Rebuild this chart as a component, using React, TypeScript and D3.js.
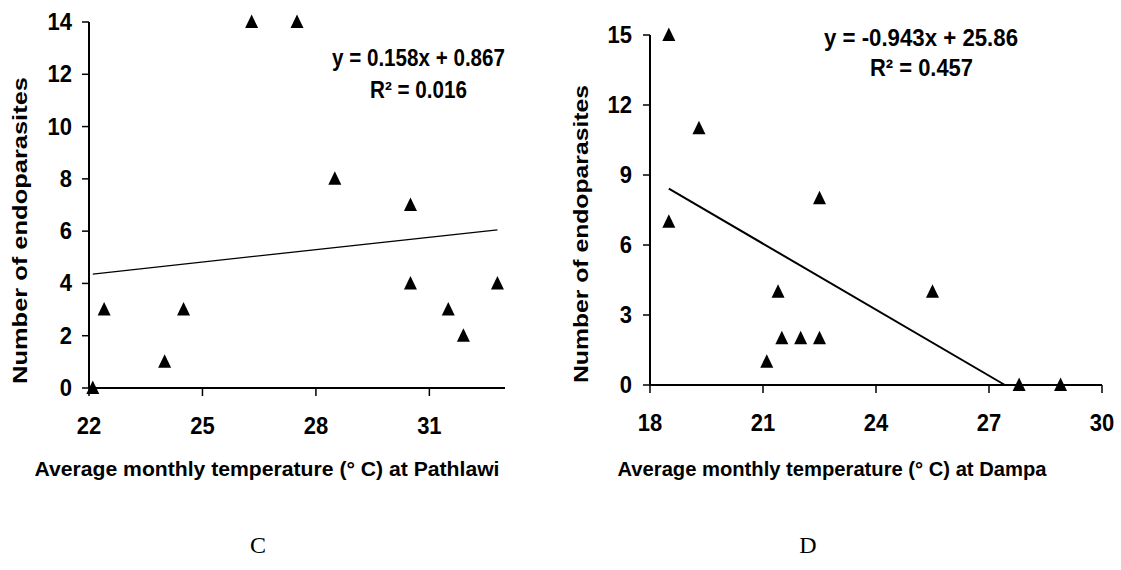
import React from "react";
import * as d3 from "d3";

// Panel C – Pathlawi
const tempPathlawi = [22.1, 22.4, 24.0, 24.5, 26.3, 27.5, 28.5, 30.5, 30.5, 31.5, 31.9, 32.8];
const parasitesPathlawi = [0, 3, 1, 3, 14, 14, 8, 7, 4, 3, 2, 4];
const xTicksC = [22, 25, 28, 31];
const yTicksC = [0, 2, 4, 6, 8, 10, 12, 14];
const fitC = { slope: 0.158, intercept: 0.867 };
const eqC = ["y = 0.158x + 0.867", "R² = 0.016"];

// Panel D – Dampa
const tempDampa = [18.5, 18.5, 19.3, 21.1, 21.4, 21.5, 22.0, 22.5, 22.5, 25.5, 27.8, 28.9];
const parasitesDampa = [15, 7, 11, 1, 4, 2, 2, 2, 8, 4, 0, 0];
const xTicksD = [18, 21, 24, 27, 30];
const yTicksD = [0, 3, 6, 9, 12, 15];
const fitD = { slope: -0.943, intercept: 25.86 };
const eqD = ["y = -0.943x + 25.86", "R² = 0.457"];

const SANS = "'Liberation Sans', Arial, sans-serif";

type PanelProps = {
  xs: number[];
  ys: number[];
  xDomain: [number, number];
  yDomain: [number, number];
  xRange: [number, number];
  yRange: [number, number];
  xTicks: number[];
  yTicks: number[];
  fit: { slope: number; intercept: number };
  fitWidth: number;
  eq: string[];
  eq1: { cx: number; y: number; len: number; fs: number };
  eq2: { cx: number; y: number; len: number; fs: number };
  yTitle: { x: number; yStart: number; len: number };
  xTitle: { text: string; cx: number; y: number; len: number };
  yLabelGap: number;
};

function Panel(p: PanelProps) {
  const x = d3.scaleLinear().domain(p.xDomain).range(p.xRange);
  const y = d3.scaleLinear().domain(p.yDomain).range(p.yRange);
  const x0 = x(p.xDomain[0]);
  const y0 = y(p.yDomain[0]);
  const tri = (cx: number, cy: number) =>
    `M${cx},${cy - 7.5}L${cx + 6.5},${cy + 6}L${cx - 6.5},${cy + 6}Z`;

  const minX = d3.min(p.xs) as number;
  const maxX = d3.max(p.xs) as number;
  let endX = maxX;
  const zeroX = -p.fit.intercept / p.fit.slope;
  if (p.fit.slope < 0 && zeroX < endX) endX = zeroX;
  const f = (v: number) => p.fit.slope * v + p.fit.intercept;
  const line = d3
    .line<number>()
    .x((v) => x(v))
    .y((v) => y(f(v)));

  return (
    <g>
      {/* axes */}
      <line x1={x0} x2={x0} y1={y(p.yDomain[1])} y2={y0} stroke="#000" strokeWidth={2} />
      <line x1={x0} x2={x(p.xDomain[1])} y1={y0} y2={y0} stroke="#000" strokeWidth={2} />
      {p.yTicks.map((t) => (
        <g key={"yt" + t}>
          <line x1={x0 - 7} x2={x0} y1={y(t)} y2={y(t)} stroke="#000" strokeWidth={1.5} />
          <text
            transform={`translate(${x0 - p.yLabelGap},${y(t) + 8}) scale(1,1.08)`}
            textAnchor="end"
            fontFamily={SANS}
            fontWeight="bold"
            fontSize={22}
          >
            {t}
          </text>
        </g>
      ))}
      {p.xTicks.map((t) => (
        <g key={"xt" + t}>
          <line x1={x(t)} x2={x(t)} y1={y0} y2={y0 + 8} stroke="#000" strokeWidth={1.5} />
          <text
            transform={`translate(${x(t)},${y0 + 46}) scale(1,1.08)`}
            textAnchor="middle"
            fontFamily={SANS}
            fontWeight="bold"
            fontSize={22}
          >
            {t}
          </text>
        </g>
      ))}
      {/* trend line */}
      <path d={line([minX, endX]) as string} stroke="#000" strokeWidth={p.fitWidth} fill="none" />
      {/* points */}
      {p.xs.map((v, i) => (
        <path key={"pt" + i} d={tri(x(v), y(p.ys[i]))} fill="#000" />
      ))}
      {/* equation */}
      <text
        x={p.eq1.cx - p.eq1.len / 2}
        y={p.eq1.y}
        textLength={p.eq1.len}
        lengthAdjust="spacingAndGlyphs"
        fontFamily={SANS}
        fontWeight="bold"
        fontSize={p.eq1.fs}
      >
        {p.eq[0]}
      </text>
      <text
        x={p.eq2.cx - p.eq2.len / 2}
        y={p.eq2.y}
        textLength={p.eq2.len}
        lengthAdjust="spacingAndGlyphs"
        fontFamily={SANS}
        fontWeight="bold"
        fontSize={p.eq2.fs}
      >
        {p.eq[1]}
      </text>
      {/* y title */}
      <text
        transform={`translate(${p.yTitle.x},${p.yTitle.yStart}) rotate(-90)`}
        textLength={p.yTitle.len}
        lengthAdjust="spacingAndGlyphs"
        fontFamily={SANS}
        fontWeight="bold"
        fontSize={20}
      >
        Number of endoparasites
      </text>
      {/* x title */}
      <text
        x={p.xTitle.cx - p.xTitle.len / 2}
        y={p.xTitle.y}
        textLength={p.xTitle.len}
        lengthAdjust="spacingAndGlyphs"
        fontFamily={SANS}
        fontWeight="bold"
        fontSize={21}
      >
        {p.xTitle.text}
      </text>
    </g>
  );
}

export default function App() {
  return (
    <svg
      width={1121}
      height={570}
      style={{ position: "absolute", left: 0, top: 0, background: "#fff" }}
    >
      <rect x={0} y={0} width={1121} height={570} fill="#fff" />
      <Panel
        xs={tempPathlawi}
        ys={parasitesPathlawi}
        xDomain={[22, 33]}
        yDomain={[0, 14]}
        xRange={[89, 505]}
        yRange={[388, 22]}
        xTicks={xTicksC}
        yTicks={yTicksC}
        fit={fitC}
        fitWidth={1.2}
        eq={eqC}
        eq1={{ cx: 418.5, y: 66, len: 173, fs: 23 }}
        eq2={{ cx: 418.5, y: 98, len: 97, fs: 23 }}
        yTitle={{ x: 27, yStart: 384, len: 307 }}
        xTitle={{ text: "Average monthly temperature (° C) at Pathlawi", cx: 267, y: 476, len: 465 }}
        yLabelGap={17}
      />
      <Panel
        xs={tempDampa}
        ys={parasitesDampa}
        xDomain={[18, 30]}
        yDomain={[0, 15]}
        xRange={[650, 1102]}
        yRange={[385, 35]}
        xTicks={xTicksD}
        yTicks={yTicksD}
        fit={fitD}
        fitWidth={2}
        eq={eqD}
        eq1={{ cx: 921, y: 46, len: 194, fs: 24 }}
        eq2={{ cx: 921.5, y: 76, len: 103, fs: 24 }}
        yTitle={{ x: 588, yStart: 383, len: 298 }}
        xTitle={{ text: "Average monthly temperature (° C) at Dampa", cx: 832, y: 476, len: 429 }}
        yLabelGap={18}
      />
      <text
        x={258}
        y={553}
        textAnchor="middle"
        fontFamily="'Liberation Serif', 'Times New Roman', serif"
        fontSize={24}
      >
        C
      </text>
      <text
        x={808}
        y={553}
        textAnchor="middle"
        fontFamily="'Liberation Serif', 'Times New Roman', serif"
        fontSize={24}
      >
        D
      </text>
    </svg>
  );
}
